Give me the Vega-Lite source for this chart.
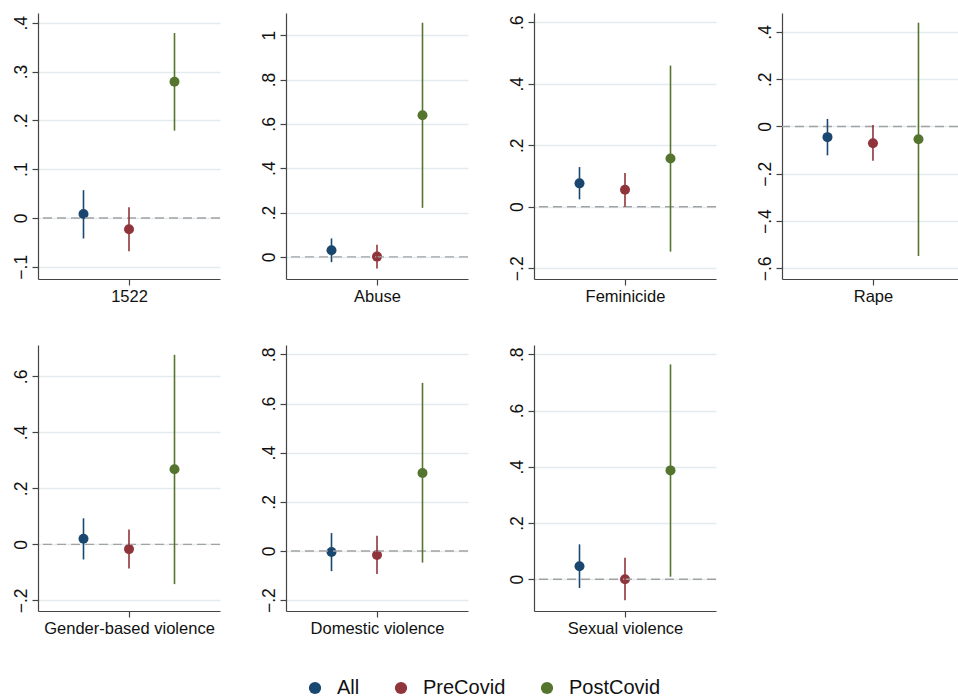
{
  "$schema": "https://vega.github.io/schema/vega-lite/v6.json",
  "padding": {"left": 12, "top": 13, "right": 0, "bottom": 0},
  "autosize": {"type": "pad"},
  "background": "white",
  "data": {"values": [
    {"outcome": "1522", "group": "All", "est": 0.008, "lo": -0.042, "hi": 0.057},
    {"outcome": "1522", "group": "PreCovid", "est": -0.023, "lo": -0.068, "hi": 0.022},
    {"outcome": "1522", "group": "PostCovid", "est": 0.279, "lo": 0.179, "hi": 0.379},
    {"outcome": "Abuse", "group": "All", "est": 0.030, "lo": -0.024, "hi": 0.083},
    {"outcome": "Abuse", "group": "PreCovid", "est": 0.001, "lo": -0.053, "hi": 0.055},
    {"outcome": "Abuse", "group": "PostCovid", "est": 0.639, "lo": 0.221, "hi": 1.056},
    {"outcome": "Feminicide", "group": "All", "est": 0.076, "lo": 0.024, "hi": 0.129},
    {"outcome": "Feminicide", "group": "PreCovid", "est": 0.055, "lo": 0.0, "hi": 0.110},
    {"outcome": "Feminicide", "group": "PostCovid", "est": 0.157, "lo": -0.146, "hi": 0.459},
    {"outcome": "Rape", "group": "All", "est": -0.045, "lo": -0.122, "hi": 0.032},
    {"outcome": "Rape", "group": "PreCovid", "est": -0.071, "lo": -0.145, "hi": 0.006},
    {"outcome": "Rape", "group": "PostCovid", "est": -0.054, "lo": -0.548, "hi": 0.439},
    {"outcome": "Gender-based violence", "group": "All", "est": 0.020, "lo": -0.054, "hi": 0.093},
    {"outcome": "Gender-based violence", "group": "PreCovid", "est": -0.017, "lo": -0.086, "hi": 0.053},
    {"outcome": "Gender-based violence", "group": "PostCovid", "est": 0.268, "lo": -0.142, "hi": 0.677},
    {"outcome": "Domestic violence", "group": "All", "est": -0.004, "lo": -0.082, "hi": 0.073},
    {"outcome": "Domestic violence", "group": "PreCovid", "est": -0.016, "lo": -0.094, "hi": 0.062},
    {"outcome": "Domestic violence", "group": "PostCovid", "est": 0.317, "lo": -0.047, "hi": 0.684},
    {"outcome": "Sexual violence", "group": "All", "est": 0.046, "lo": -0.031, "hi": 0.124},
    {"outcome": "Sexual violence", "group": "PreCovid", "est": 0.0, "lo": -0.075, "hi": 0.076},
    {"outcome": "Sexual violence", "group": "PostCovid", "est": 0.387, "lo": 0.009, "hi": 0.764}
  ]},
  "columns": 4,
  "spacing": {"row": 66, "column": 66},
  "bounds": "flush",
  "resolve": {"scale": {"color": "shared"}, "legend": {"color": "independent"}},
  "concat": [
    {
      "width": 182, "height": 266,
      "layer": [
        {"transform": [{"filter": "datum.outcome == '1522'"}], "mark": {"type": "circle", "size": 100, "opacity": 1},
          "encoding": {
            "x": {"field": "group", "type": "nominal", "scale": {"type": "point", "domain": ["All", "PreCovid", "PostCovid"], "padding": 1}, "axis": {"values": ["PreCovid"], "labelExpr": "'1522'", "title": null}},
            "y": {"field": "est", "type": "quantitative", "scale": {"domain": [-0.125, 0.42], "nice": false, "zero": false}, "axis": {"title": null, "values": [-0.1, 0, 0.1, 0.2, 0.3, 0.4]}},
            "color": {"field": "group", "type": "nominal", "scale": {"domain": ["All", "PreCovid", "PostCovid"], "range": ["#1a476f", "#90353b", "#55752f"]}, "legend": null}}},
        {"data": {"values": [{}]}, "mark": {"type": "rule", "color": "#a3a3a3", "strokeDash": [9, 5], "strokeWidth": 1.3}, "encoding": {"y": {"datum": 0, "type": "quantitative"}}},
        {"transform": [{"filter": "datum.outcome == '1522'"}], "mark": {"type": "rule", "strokeWidth": 1.6},
          "encoding": {
            "x": {"field": "group", "type": "nominal"},
            "y": {"field": "lo", "type": "quantitative"},
            "y2": {"field": "hi"},
            "color": {"field": "group", "type": "nominal", "legend": null}}}
      ]
    },
    {
      "width": 182, "height": 266,
      "layer": [
        {"transform": [{"filter": "datum.outcome == 'Abuse'"}], "mark": {"type": "circle", "size": 100, "opacity": 1},
          "encoding": {
            "x": {"field": "group", "type": "nominal", "scale": {"type": "point", "domain": ["All", "PreCovid", "PostCovid"], "padding": 1}, "axis": {"values": ["PreCovid"], "labelExpr": "'Abuse'", "title": null}},
            "y": {"field": "est", "type": "quantitative", "scale": {"domain": [-0.1, 1.1], "nice": false, "zero": false}, "axis": {"title": null, "values": [0, 0.2, 0.4, 0.6, 0.8, 1]}},
            "color": {"field": "group", "type": "nominal", "legend": null}}},
        {"data": {"values": [{}]}, "mark": {"type": "rule", "color": "#a3a3a3", "strokeDash": [9, 5], "strokeWidth": 1.3}, "encoding": {"y": {"datum": 0, "type": "quantitative"}}},
        {"transform": [{"filter": "datum.outcome == 'Abuse'"}], "mark": {"type": "rule", "strokeWidth": 1.6},
          "encoding": {
            "x": {"field": "group", "type": "nominal"},
            "y": {"field": "lo", "type": "quantitative"},
            "y2": {"field": "hi"},
            "color": {"field": "group", "type": "nominal", "legend": null}}}
      ]
    },
    {
      "width": 182, "height": 266,
      "layer": [
        {"transform": [{"filter": "datum.outcome == 'Feminicide'"}], "mark": {"type": "circle", "size": 100, "opacity": 1},
          "encoding": {
            "x": {"field": "group", "type": "nominal", "scale": {"type": "point", "domain": ["All", "PreCovid", "PostCovid"], "padding": 1}, "axis": {"values": ["PreCovid"], "labelExpr": "'Feminicide'", "title": null}},
            "y": {"field": "est", "type": "quantitative", "scale": {"domain": [-0.235, 0.63], "nice": false, "zero": false}, "axis": {"title": null, "values": [-0.2, 0, 0.2, 0.4, 0.6]}},
            "color": {"field": "group", "type": "nominal", "legend": null}}},
        {"data": {"values": [{}]}, "mark": {"type": "rule", "color": "#a3a3a3", "strokeDash": [9, 5], "strokeWidth": 1.3}, "encoding": {"y": {"datum": 0, "type": "quantitative"}}},
        {"transform": [{"filter": "datum.outcome == 'Feminicide'"}], "mark": {"type": "rule", "strokeWidth": 1.6},
          "encoding": {
            "x": {"field": "group", "type": "nominal"},
            "y": {"field": "lo", "type": "quantitative"},
            "y2": {"field": "hi"},
            "color": {"field": "group", "type": "nominal", "legend": null}}}
      ]
    },
    {
      "width": 176, "height": 266,
      "layer": [
        {"transform": [{"filter": "datum.outcome == 'Rape'"}], "mark": {"type": "circle", "size": 100, "opacity": 1},
          "encoding": {
            "x": {"field": "group", "type": "nominal", "scale": {"type": "point", "domain": ["All", "PreCovid", "PostCovid"], "padding": 0.934, "align": 0.535}, "axis": {"values": ["PreCovid"], "labelExpr": "'Rape'", "title": null}},
            "y": {"field": "est", "type": "quantitative", "scale": {"domain": [-0.645, 0.48], "nice": false, "zero": false}, "axis": {"title": null, "values": [-0.6, -0.4, -0.2, 0, 0.2, 0.4]}},
            "color": {"field": "group", "type": "nominal", "legend": null}}},
        {"data": {"values": [{}]}, "mark": {"type": "rule", "color": "#a3a3a3", "strokeDash": [9, 5], "strokeWidth": 1.3}, "encoding": {"y": {"datum": 0, "type": "quantitative"}}},
        {"transform": [{"filter": "datum.outcome == 'Rape'"}], "mark": {"type": "rule", "strokeWidth": 1.6},
          "encoding": {
            "x": {"field": "group", "type": "nominal"},
            "y": {"field": "lo", "type": "quantitative"},
            "y2": {"field": "hi"},
            "color": {"field": "group", "type": "nominal", "legend": null}}}
      ]
    },
    {
      "width": 182, "height": 266,
      "layer": [
        {"transform": [{"filter": "datum.outcome == 'Gender-based violence'"}], "mark": {"type": "circle", "size": 100, "opacity": 1},
          "encoding": {
            "x": {"field": "group", "type": "nominal", "scale": {"type": "point", "domain": ["All", "PreCovid", "PostCovid"], "padding": 1}, "axis": {"values": ["PreCovid"], "labelExpr": "'Gender-based violence'", "title": null}},
            "y": {"field": "est", "type": "quantitative", "scale": {"domain": [-0.238, 0.712], "nice": false, "zero": false}, "axis": {"title": null, "values": [-0.2, 0, 0.2, 0.4, 0.6]}},
            "color": {"field": "group", "type": "nominal", "legend": null}}},
        {"data": {"values": [{}]}, "mark": {"type": "rule", "color": "#a3a3a3", "strokeDash": [9, 5], "strokeWidth": 1.3}, "encoding": {"y": {"datum": 0, "type": "quantitative"}}},
        {"transform": [{"filter": "datum.outcome == 'Gender-based violence'"}], "mark": {"type": "rule", "strokeWidth": 1.6},
          "encoding": {
            "x": {"field": "group", "type": "nominal"},
            "y": {"field": "lo", "type": "quantitative"},
            "y2": {"field": "hi"},
            "color": {"field": "group", "type": "nominal", "legend": null}}}
      ]
    },
    {
      "width": 182, "height": 266,
      "layer": [
        {"transform": [{"filter": "datum.outcome == 'Domestic violence'"}], "mark": {"type": "circle", "size": 100, "opacity": 1},
          "encoding": {
            "x": {"field": "group", "type": "nominal", "scale": {"type": "point", "domain": ["All", "PreCovid", "PostCovid"], "padding": 1}, "axis": {"values": ["PreCovid"], "labelExpr": "'Domestic violence'", "title": null}},
            "y": {"field": "est", "type": "quantitative", "scale": {"domain": [-0.244, 0.838], "nice": false, "zero": false}, "axis": {"title": null, "values": [-0.2, 0, 0.2, 0.4, 0.6, 0.8]}},
            "color": {"field": "group", "type": "nominal", "legend": {"title": null, "orient": "none", "legendX": 19, "legendY": 333, "direction": "horizontal", "symbolType": "circle", "labelFontSize": 20, "columnPadding": 31, "labelOffset": 12, "encode": {"symbols": {"update": {"size": {"value": 150}}}}}}}},
        {"data": {"values": [{}]}, "mark": {"type": "rule", "color": "#a3a3a3", "strokeDash": [9, 5], "strokeWidth": 1.3}, "encoding": {"y": {"datum": 0, "type": "quantitative"}}},
        {"transform": [{"filter": "datum.outcome == 'Domestic violence'"}], "mark": {"type": "rule", "strokeWidth": 1.6},
          "encoding": {
            "x": {"field": "group", "type": "nominal"},
            "y": {"field": "lo", "type": "quantitative"},
            "y2": {"field": "hi"},
            "color": {"field": "group", "type": "nominal"}}}
      ]
    },
    {
      "width": 182, "height": 266,
      "layer": [
        {"transform": [{"filter": "datum.outcome == 'Sexual violence'"}], "mark": {"type": "circle", "size": 100, "opacity": 1},
          "encoding": {
            "x": {"field": "group", "type": "nominal", "scale": {"type": "point", "domain": ["All", "PreCovid", "PostCovid"], "padding": 1}, "axis": {"values": ["PreCovid"], "labelExpr": "'Sexual violence'", "title": null}},
            "y": {"field": "est", "type": "quantitative", "scale": {"domain": [-0.113, 0.833], "nice": false, "zero": false}, "axis": {"title": null, "values": [0, 0.2, 0.4, 0.6, 0.8]}},
            "color": {"field": "group", "type": "nominal", "legend": null}}},
        {"data": {"values": [{}]}, "mark": {"type": "rule", "color": "#a3a3a3", "strokeDash": [9, 5], "strokeWidth": 1.3}, "encoding": {"y": {"datum": 0, "type": "quantitative"}}},
        {"transform": [{"filter": "datum.outcome == 'Sexual violence'"}], "mark": {"type": "rule", "strokeWidth": 1.6},
          "encoding": {
            "x": {"field": "group", "type": "nominal"},
            "y": {"field": "lo", "type": "quantitative"},
            "y2": {"field": "hi"},
            "color": {"field": "group", "type": "nominal", "legend": null}}}
      ]
    }
  ],
  "config": {
    "view": {"stroke": null},
    "font": "Liberation Sans",
    "axis": {"domainColor": "#444444", "domainWidth": 1.2, "tickColor": "#444444", "tickWidth": 1.2, "tickSize": 6, "labelFont": "Liberation Sans", "labelColor": "#111111"},
    "axisX": {"grid": false, "labelFontSize": 16.5, "labelPadding": 3, "labelAngle": 0},
    "axisY": {"grid": true, "gridColor": "#e3ebee", "gridWidth": 1.3, "labelFontSize": 17.5, "labelAngle": -90, "labelAlign": "center", "labelBaseline": "bottom", "labelPadding": 2, "labelOverlap": false, "labelBound": false, "labelExpr": "replace(format(datum.value, '.1~f'), '0.', '.')"},
    "legend": {"labelFont": "Liberation Sans", "labelFontSize": 20, "labelColor": "#111111", "symbolSize": 150, "symbolType": "circle", "symbolStrokeWidth": 0, "symbolOpacity": 1, "columnPadding": 31, "labelOffset": 12}
  }
}
